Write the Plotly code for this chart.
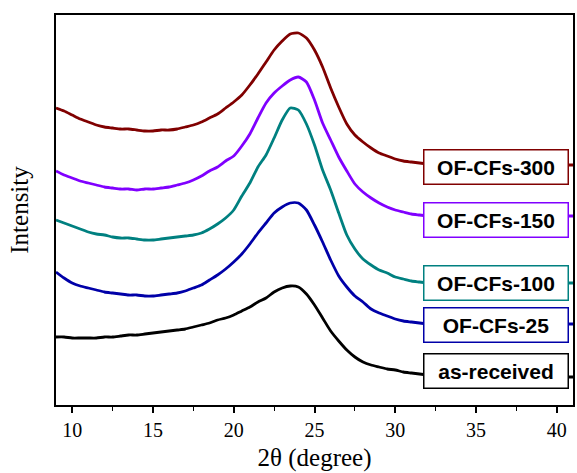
import plotly.graph_objects as go

# 2-theta grid (degrees), 0.5 step
two_theta = [9 + 0.5 * i for i in range(65)]

as_received = [337, 337, 338, 338, 338, 338, 337, 337, 336, 335, 335, 334, 333, 332, 331, 330,
               329, 327, 325, 323, 320, 318, 315, 311, 307, 302, 298, 292, 288, 286, 287, 294,
               305, 318, 331, 341, 350, 357, 362, 365, 367, 369, 370, 372, 373, 374, 375, 375,
               375, 376, 375, 375, 376, 375, 375, 376, 375, 375, 376, 375, 376, 376, 377, 377, 377]
ofcfs_25 = [272, 278, 283, 286, 288, 290, 292, 293, 294, 295, 295, 296, 296, 295, 294, 293,
            291, 288, 285, 280, 275, 269, 262, 254, 244, 233, 223, 213, 207, 203, 203, 210,
            225, 242, 260, 276, 287, 296, 302, 309, 313, 316, 319, 321, 322, 323, 324, 324,
            324, 324, 324, 324, 324, 324, 324, 324, 324, 324, 324, 324, 324, 324, 324, 324, 324]
ofcfs_100 = [220, 223, 226, 229, 232, 234, 235, 237, 238, 238, 239, 240, 240, 239, 238, 237,
             236, 235, 233, 229, 224, 218, 210, 196, 183, 167, 155, 138, 120, 108, 110, 124,
             145, 170, 190, 213, 235, 249, 259, 265, 270, 273, 277, 279, 281, 282, 283, 283,
             283, 283, 283, 283, 283, 283, 283, 283, 283, 283, 283, 283, 283, 283, 283, 283, 283]
ofcfs_150 = [171, 175, 178, 181, 183, 185, 187, 188, 189, 189, 190, 189, 189, 188, 187, 185,
             183, 180, 176, 171, 167, 161, 156, 146, 134, 118, 103, 93, 86, 80, 77, 82,
             100, 123, 140, 157, 171, 184, 192, 198, 203, 207, 210, 212, 214, 215, 216, 216,
             216, 216, 216, 216, 216, 216, 216, 216, 216, 216, 216, 216, 216, 216, 216, 216, 216]
ofcfs_300 = [108, 111, 115, 119, 122, 125, 127, 128, 129, 129, 130, 131, 131, 130, 130, 129,
             127, 125, 122, 118, 114, 108, 102, 95, 85, 74, 62, 50, 41, 34, 33, 38,
             50, 67, 88, 107, 124, 135, 142, 148, 153, 156, 159, 161, 162, 163, 164, 164,
             164, 165, 165, 165, 165, 165, 165, 165, 165, 165, 165, 165, 165, 165, 165, 165, 165]

series_names = ["as-received", "OF-CFs-25", "OF-CFs-100", "OF-CFs-150", "OF-CFs-300"]
series_colors = ["#000000", "#0000A8", "#008080", "#8000FF", "#800000"]
series_values = [as_received, ofcfs_25, ofcfs_100, ofcfs_150, ofcfs_300]
# label box centres (pixel rows)
label_rows = [371, 325, 283, 220, 167]

BOTTOM_PX = 405  # pixel row of the x axis

fig = go.Figure()
for name, col, vals in zip(series_names, series_colors, series_values):
    fig.add_trace(go.Scatter(
        x=two_theta, y=[BOTTOM_PX - v for v in vals], mode="lines", name=name,
        line=dict(color=col, width=2.8, shape="spline", smoothing=0.6), showlegend=False))

for name, col, row in zip(series_names, series_colors, label_rows):
    fig.add_annotation(
        x=36.25, y=BOTTOM_PX - row, xref="x", yref="y", text="<b>%s</b>" % name,
        showarrow=False, font=dict(family="Liberation Sans, Arial", size=21, color="black"),
        bgcolor="white", bordercolor=col, borderwidth=1.5, borderpad=1,
        width=141, height=31, align="center")

fig.update_layout(
    width=577, height=473,
    margin=dict(l=56, r=2, t=15, b=68),
    paper_bgcolor="white", plot_bgcolor="white",
    font=dict(family="Liberation Serif, Times New Roman", color="black"),
    xaxis=dict(range=[9, 41], tickmode="linear", tick0=10, dtick=5,
               ticks="outside", ticklen=6, tickwidth=1.5, tickcolor="black",
               minor=dict(ticks="outside", ticklen=4, tickwidth=1.2, dtick=2.5,
                          tick0=7.5, tickcolor="black"),
               showline=True, linecolor="black", linewidth=1.8, mirror=True,
               showgrid=False, zeroline=False,
               tickfont=dict(size=20, family="Liberation Serif"),
               title=dict(text="2θ (degree)", font=dict(size=25, family="Liberation Serif"),
                          standoff=9)),
    yaxis=dict(range=[0, 390], showticklabels=False, ticks="",
               showline=True, linecolor="black", linewidth=1.8, mirror=True,
               showgrid=False, zeroline=False,
               title=dict(text="Intensity", font=dict(size=25, family="Liberation Serif"),
                          standoff=18)),
)

fig.write_html("out.html")
